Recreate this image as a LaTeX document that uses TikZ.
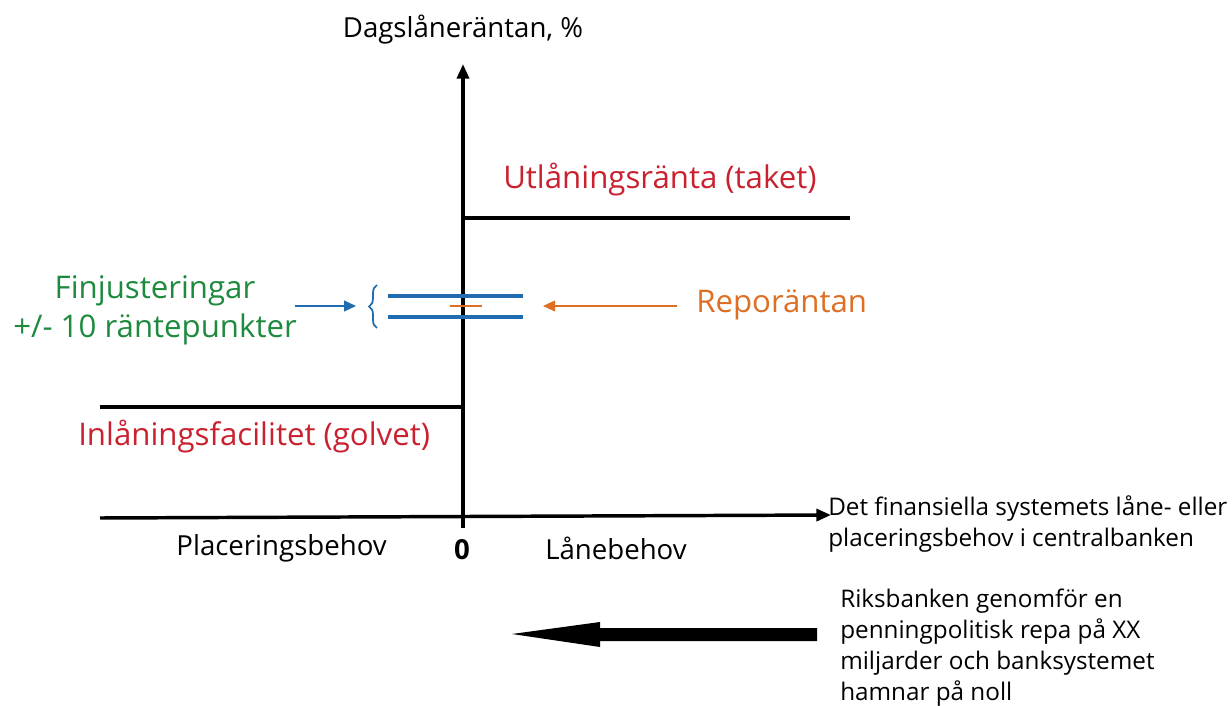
\documentclass[tikz,border=0pt]{standalone}
\usepackage{fontspec}
\setmainfont{Open Sans}
\usetikzlibrary{arrows.meta,decorations.pathreplacing}
\definecolor{cred}{HTML}{C9212F}
\definecolor{cgreen}{HTML}{1E8A3E}
\definecolor{cblue}{HTML}{1F6DB0}
\definecolor{corange}{HTML}{DE6E22}
\tikzset{
  axis/.style={line width=2.6pt,-{Triangle[length=11pt,width=9pt]}},
  level/.style={line width=2.6pt},
  band/.style={cblue,line width=2.6pt},
  lbl/.style={inner sep=0pt,font=\fontsize{20.7}{25}\selectfont},
  big/.style={inner sep=0pt,font=\fontsize{23.4}{29}\selectfont},
  small/.style={inner sep=0pt,font=\fontsize{18.2}{23.2}\selectfont,align=left},
}
\begin{document}
\begin{tikzpicture}[x=0.75pt,y=-0.75pt]
\useasboundingbox (0,0) rectangle (1232,706);
% axes
\coordinate (ybot) at (463,528);
\coordinate (ytop) at (463,64);
\coordinate (xl) at (100,518);
\coordinate (xr) at (831,515);
\draw[axis] (ybot) -- (ytop);
\draw[axis] (xl) -- (xr);
% levels
\coordinate (t1) at (463,218); \coordinate (t2) at (850,218);
\coordinate (b1) at (100,407); \coordinate (b2) at (463,407);
\draw[level] (t1) -- (t2);
\draw[level] (b1) -- (b2);
% corridor
\coordinate (u1) at (388,296); \coordinate (u2) at (523,296);
\coordinate (l1) at (388,317); \coordinate (l2) at (523,317);
\draw[band] (u1) -- (u2);
\draw[band] (l1) -- (l2);
\coordinate (r1) at (450,306); \coordinate (r2) at (482,306);
\draw[corange,line width=1.6pt] (r1) -- (r2);
% brace
\coordinate (br1) at (377,328); \coordinate (br2) at (377,285);
\draw[cblue,line width=1.3pt,decorate,decoration={brace,amplitude=6pt}] (br1) -- (br2);
\node[inner sep=0pt] (brace) at (357,306) {};
% labels
\node[lbl] (ylab) at (463,30) {Dagslåneräntan, \%};
\node[big,text=cred,anchor=west] (tak) at (503,180) {Utlåningsränta (taket)};
\node[big,text=corange,anchor=west] (repo) at (696,305) {Reporäntan};
\node[big,text=cgreen,align=center] (fin) at (155,310) {Finjusteringar\\+/- 10 räntepunkter};
\node[big,text=cred,anchor=west] (golv) at (78,437) {Inlåningsfacilitet (golvet)};
\node[lbl,anchor=east] (plac) at (387,548) {Placeringsbehov};
\node[lbl,font=\fontsize{20.7}{25}\selectfont\bfseries] (zero) at (462,550) {0};
\node[lbl,anchor=west] (lan) at (545,548) {Lånebehov};
\node[small,anchor=west] (xlab) at (828,524) {Det finansiella systemets låne- eller\\placeringsbehov i centralbanken};
\node[small,anchor=west] (riks) at (840,648) {Riksbanken genomför en\\penningpolitisk repa på XX\\miljarder och banksystemet\\hamnar på noll};
% pointer arrows
\coordinate (bs) at (295,306);
\draw[cblue,line width=1.3pt,-{Triangle[length=9pt,width=8pt]}] (bs) -- (brace);
\coordinate (os) at (677,306);
\coordinate (oe) at (543,306);
\draw[corange,line width=1.3pt,-{Triangle[length=9pt,width=8pt]}] (os) -- (oe);
% big arrow (block arrow)
\fill (817,628) -- (600,628) -- (600,622) -- (512,634) -- (600,647) -- (600,641) -- (817,641) -- cycle;
\end{tikzpicture}
\end{document}
